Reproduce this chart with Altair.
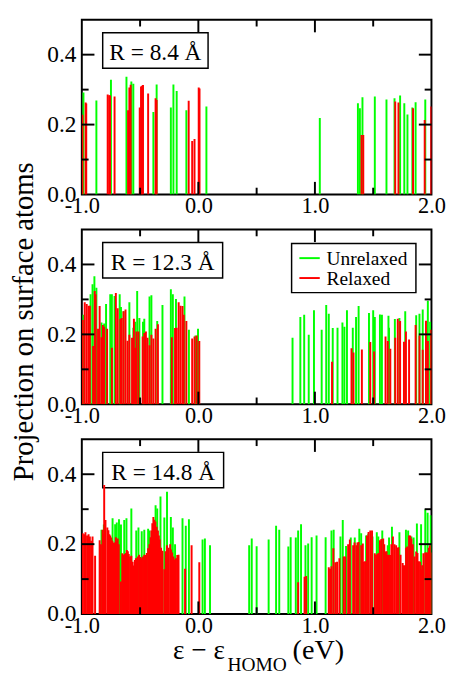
import altair as alt
import pandas as pd

FONT = "Liberation Serif"
W, H = 360, 180

# ---------------- data ----------------
# Panel 1: R = 8.4 A
P1_U_X = [-0.986, -0.875, -0.75, -0.617, -0.575, -0.558, -0.386, -0.358, -0.236, -0.214, -0.186, -0.103, 0.069,
          1.042, 1.369, 1.386, 1.408, 1.514, 1.614, 1.683, 1.731, 1.767, 1.794, 1.836, 1.864, 1.947]
P1_U_Y = [0.292, 0.269, 0.328, 0.337, 0.323, 0.317, 0.236, 0.315, 0.249, 0.315, 0.296, 0.241, 0.252,
          0.219, 0.261, 0.247, 0.278, 0.28, 0.272, 0.275, 0.283, 0.261, 0.229, 0.249, 0.264, 0.272]
P1_R_X = [-0.995, -0.967, -0.962, -0.778, -0.765, -0.758, -0.719, -0.603, -0.592, -0.581, -0.503, -0.492, -0.483, -0.475,
          -0.431, -0.367, -0.358, -0.083, -0.053, -0.033, 0.003, 0.01, 1.40, 1.415, 1.689, 1.717, 1.842, 1.942, 1.998]
P1_R_Y = [0.228, 0.263, 0.26, 0.286, 0.284, 0.283, 0.28, 0.241, 0.306, 0.314, 0.249, 0.309, 0.311, 0.313,
          0.289, 0.275, 0.27, 0.268, 0.153, 0.159, 0.306, 0.303, 0.17, 0.17, 0.266, 0.263, 0.247, 0.213, 0.252]

# Panel 2: R = 12.3 A
P2_U_X = [-0.986, -0.925, -0.908, -0.892, -0.875, -0.831, -0.808, -0.792, -0.756, -0.742, -0.719, -0.675, -0.664,
          -0.642, -0.592, -0.558, -0.542, -0.525, -0.506, -0.475, -0.464, -0.419, -0.403, -0.353, -0.308, -0.236,
          -0.219, -0.192, -0.119, -0.081, -0.025, -0.003,
          0.808, 0.875, 0.908, 0.947, 0.992, 1.058, 1.097, 1.119, 1.153, 1.194, 1.236, 1.253, 1.275, 1.325, 1.353,
          1.375, 1.464, 1.5, 1.514, 1.558, 1.575, 1.631, 1.636, 1.686, 1.725, 1.775, 1.869, 1.897, 1.925, 1.969, 1.989]
P2_U_Y = [0.256, 0.315, 0.343, 0.366, 0.333, 0.234, 0.231, 0.287, 0.315, 0.315, 0.31, 0.315, 0.278,
          0.266, 0.292, 0.219, 0.236, 0.324, 0.247, 0.236, 0.245, 0.308, 0.312, 0.238, 0.284, 0.329,
          0.315, 0.301, 0.308, 0.213, 0.197, 0.216,
          0.19, 0.25, 0.256, 0.199, 0.269, 0.213, 0.284, 0.259, 0.218, 0.219, 0.234, 0.222, 0.269, 0.219, 0.25,
          0.281, 0.261, 0.269, 0.25, 0.257, 0.256, 0.253, 0.219, 0.244, 0.247, 0.266, 0.255, 0.259, 0.271, 0.296, 0.236]
P2_R_X = [-0.992, -0.975, -0.958, -0.942, -0.931, -0.903, -0.889, -0.881, -0.861, -0.847, -0.831, -0.819, -0.808,
          -0.783, -0.742, -0.708, -0.692, -0.669, -0.658, -0.642, -0.625, -0.608, -0.592, -0.569, -0.553, -0.542,
          -0.531, -0.514, -0.478, -0.464, -0.45, -0.436, -0.419, -0.403, -0.386, -0.367, -0.347, -0.228, -0.2,
          -0.186, -0.169, -0.153, -0.136, -0.125, -0.103, -0.053, -0.033, -0.014, 0.008,
          1.147, 1.314, 1.331, 1.403, 1.475, 1.508, 1.606, 1.625, 1.647, 1.689, 1.711, 1.731, 1.764, 1.781, 1.808,
          1.864, 1.897, 1.925, 1.953, 1.969, 1.997]
P2_R_Y = [0.241, 0.292, 0.287, 0.282, 0.282, 0.167, 0.324, 0.315, 0.216, 0.281, 0.192, 0.227, 0.222,
          0.216, 0.162, 0.318, 0.275, 0.244, 0.247, 0.266, 0.271, 0.182, 0.199, 0.19, 0.245, 0.162,
          0.208, 0.208, 0.194, 0.204, 0.208, 0.19, 0.169, 0.199, 0.188, 0.216, 0.229, 0.192, 0.218,
          0.219, 0.292, 0.282, 0.281, 0.256, 0.238, 0.188, 0.194, 0.197, 0.181,
          0.122, 0.16, 0.148, 0.157, 0.178, 0.151, 0.194, 0.181, 0.159, 0.19, 0.245, 0.238, 0.179, 0.208, 0.185,
          0.227, 0.197, 0.156, 0.239, 0.181, 0.213]

# Panel 3: R = 14.8 A
P3_U_X = [-0.831, -0.811, -0.736, -0.714, -0.7, -0.681, -0.664, -0.636, -0.617, -0.575, -0.533, -0.514, -0.486,
          -0.464, -0.431, -0.419, -0.367, -0.353, -0.325, -0.292, -0.269, -0.236, -0.219, -0.2, -0.136, -0.108,
          -0.081, 0.036, 0.056, 0.1,
          0.436, 0.458, 0.5, 0.603, 0.667, 0.694, 0.772, 0.792, 0.836, 0.856, 0.881, 0.919, 0.942, 0.972, 1.014,
          1.092, 1.142, 1.161, 1.219, 1.239, 1.267, 1.308, 1.342, 1.381, 1.397, 1.439, 1.458, 1.494, 1.531, 1.544,
          1.578, 1.625, 1.636, 1.661, 1.725, 1.781, 1.8, 1.828, 1.847, 1.875, 1.911, 1.947, 1.967, 1.994]
P3_U_Y = [0.241, 0.256, 0.274, 0.257, 0.262, 0.271, 0.256, 0.269, 0.274, 0.302, 0.239, 0.248, 0.237,
          0.241, 0.244, 0.239, 0.311, 0.302, 0.336, 0.276, 0.35, 0.278, 0.248, 0.2, 0.274, 0.253,
          0.271, 0.213, 0.216, 0.197,
          0.197, 0.216, 0.194, 0.213, 0.253, 0.241, 0.193, 0.22, 0.219, 0.239, 0.257, 0.197, 0.202, 0.22, 0.225,
          0.22, 0.239, 0.241, 0.222, 0.269, 0.195, 0.219, 0.219, 0.244, 0.231, 0.225, 0.23, 0.222, 0.234, 0.222,
          0.239, 0.197, 0.219, 0.25, 0.234, 0.241, 0.239, 0.222, 0.219, 0.259, 0.257, 0.299, 0.29, 0.283]
P3_R_X = [-0.992, -0.98, -0.969, -0.955, -0.942, -0.931, -0.92, -0.908, -0.886, -0.847, -0.836, -0.822, -0.815,
          -0.808, -0.797, -0.781, -0.772, -0.764, -0.756, -0.747, -0.738, -0.728, -0.718, -0.708, -0.7, -0.692,
          -0.683, -0.664, -0.653, -0.642, -0.631, -0.622, -0.614, -0.605, -0.597, -0.586, -0.575, -0.564, -0.553,
          -0.545, -0.536, -0.528, -0.519, -0.508, -0.497, -0.486, -0.475, -0.464, -0.453, -0.442, -0.431, -0.42,
          -0.41, -0.403, -0.395, -0.386, -0.378, -0.369, -0.358, -0.347, -0.339, -0.331, -0.32, -0.308, -0.292,
          -0.28, -0.269, -0.255, -0.242, -0.234, -0.225, -0.214, -0.203, -0.192, -0.181, -0.17, -0.114, -0.058, 0.008,
          0.856, 0.911, 0.925, 1.119, 1.13, 1.142, 1.158, 1.175, 1.19, 1.21, 1.247, 1.26, 1.285, 1.3, 1.328, 1.34,
          1.356, 1.365, 1.375, 1.397, 1.411, 1.42, 1.431, 1.447, 1.46, 1.475, 1.49, 1.514, 1.525, 1.536, 1.545,
          1.558, 1.57, 1.586, 1.595, 1.606, 1.615, 1.625, 1.635, 1.647, 1.656, 1.669, 1.683, 1.697, 1.706, 1.717,
          1.735, 1.753, 1.762, 1.772, 1.782, 1.792, 1.808, 1.818, 1.828, 1.84, 1.856, 1.869, 1.88, 1.892, 1.903,
          1.911, 1.92, 1.931, 1.947, 1.957, 1.967, 1.977, 1.986, 2.0]
P3_R_Y = [0.231, 0.228, 0.234, 0.225, 0.228, 0.222, 0.21, 0.222, 0.167, 0.211, 0.2, 0.241, 0.23,
          0.369, 0.269, 0.248, 0.24, 0.228, 0.225, 0.219, 0.21, 0.204, 0.205, 0.22, 0.21, 0.216,
          0.2, 0.093, 0.174, 0.17, 0.172, 0.175, 0.183, 0.18, 0.172, 0.165, 0.167, 0.15, 0.139,
          0.155, 0.16, 0.16, 0.165, 0.17, 0.163, 0.16, 0.165, 0.17, 0.169, 0.175, 0.188, 0.2,
          0.22, 0.239, 0.26, 0.278, 0.27, 0.265, 0.25, 0.239, 0.225, 0.213, 0.19, 0.181, 0.128,
          0.18, 0.197, 0.19, 0.2, 0.185, 0.176, 0.165, 0.156, 0.16, 0.169, 0.17, 0.13, 0.197, 0.148,
          0.091, 0.107, 0.109, 0.134, 0.13, 0.137, 0.188, 0.148, 0.15, 0.16, 0.165, 0.165, 0.2, 0.213, 0.197, 0.205,
          0.197, 0.205, 0.206, 0.197, 0.202, 0.15, 0.151, 0.225, 0.235, 0.239, 0.239, 0.174, 0.17, 0.172, 0.175,
          0.211, 0.215, 0.216, 0.2, 0.179, 0.18, 0.169, 0.17, 0.169, 0.2, 0.222, 0.2, 0.197, 0.19, 0.191,
          0.17, 0.146, 0.14, 0.139, 0.19, 0.193, 0.225, 0.225, 0.216, 0.2, 0.165, 0.179, 0.175, 0.151, 0.15,
          0.128, 0.14, 0.174, 0.176, 0.176, 0.176, 0.19, 0.197, 0.176]

LABELS = ["R = 8.4 \u00c5", "R = 12.3 \u00c5", "R = 14.8 \u00c5"]
LEGEND = ["Unrelaxed", "Relaxed"]
X_TICKS = [-1.0, 0.0, 1.0, 2.0]
Y_TICKS = [0.0, 0.2, 0.4]
X_MAJOR = [0.0, 1.0]
X_MINOR = [-0.5, 0.5, 1.5]
Y_MAJOR = [0.2, 0.4]
Y_MINOR = [0.1, 0.3]

GREEN = "#00ff00"
RED = "#ff0000"

# ---------------- chart ----------------
xs = alt.Scale(domain=[-1, 2], nice=False, zero=False)
ys = alt.Scale(domain=[0, 0.5], nice=False, zero=False)
label_expr = "datum.value < 0 ? '-' + format(-datum.value, '.1f') : format(datum.value, '.1f')"
xaxis = alt.Axis(values=X_TICKS, labelExpr=label_expr, title=None, ticks=False, domain=False, grid=False,
                 labelFont=FONT, labelFontSize=23, labelColor="black", labelPadding=1,
                 labelFlush=False, labelOverlap=False)
yaxis = alt.Axis(values=Y_TICKS, format=".1f", title=None, ticks=False, domain=False, grid=False,
                 labelFont=FONT, labelFontSize=24, labelColor="black", labelPadding=6,
                 labelOverlap=False)

one = pd.DataFrame({"k": [0]})


def spikes(xv, yv, color):
    df = pd.DataFrame({"x": xv, "y": yv})
    return alt.Chart(df).mark_rule(color=color, strokeWidth=2, clip=True).encode(
        x=alt.X("x:Q", scale=xs, axis=xaxis),
        y=alt.Y("y:Q", scale=ys, axis=yaxis),
        y2=alt.datum(0),
    )


def xticks(vals, length, top):
    df = pd.DataFrame({"t": vals})
    if top:
        yy, yy2 = alt.value(0), alt.value(length)
    else:
        yy, yy2 = alt.value(H), alt.value(H - length)
    return alt.Chart(df).mark_rule(color="black", strokeWidth=2).encode(
        x=alt.X("t:Q", scale=xs, axis=xaxis), y=yy, y2=yy2)


def yticks(vals, length, left):
    df = pd.DataFrame({"t": vals})
    if left:
        xx, xx2 = alt.value(0), alt.value(length)
    else:
        xx, xx2 = alt.value(W), alt.value(W - length)
    return alt.Chart(df).mark_rule(color="black", strokeWidth=2).encode(
        y=alt.Y("t:Q", scale=ys, axis=yaxis), x=xx, x2=xx2)


def text(s, x, y, size, align="left", angle=None):
    kw = dict(font=FONT, fontSize=size, align=align, baseline="alphabetic", color="black")
    if angle is not None:
        kw["angle"] = angle
    return alt.Chart(one).mark_text(**kw).encode(x=alt.value(x), y=alt.value(y), text=alt.value(s))


def box(x0, x1, y0, y1, sw=1.5):
    return alt.Chart(one).mark_rect(fill="white", fillOpacity=0, stroke="black", strokeWidth=sw).encode(
        x=alt.value(x0), x2=alt.value(x1), y=alt.value(y0), y2=alt.value(y1))


def hline(x0, x1, y, color):
    return alt.Chart(one).mark_rule(color=color, strokeWidth=2).encode(
        x=alt.value(x0), x2=alt.value(x1), y=alt.value(y))


def panel(ux, uy, rx, ry, label, bx1, extra=()):
    layers = [
        box(21.5, bx1, 13.5, 50),
        text(label, (21.5 + bx1) / 2, 42, 24, align="center"),
        spikes(ux, uy, GREEN),
        spikes(rx, ry, RED),
        xticks(X_MAJOR, 13, True), xticks(X_MINOR, 7, True),
        xticks(X_MAJOR, 13, False), xticks(X_MINOR, 7, False),
        yticks(Y_MAJOR, 13, True), yticks(Y_MINOR, 7, True),
        yticks(Y_MAJOR, 13, False), yticks(Y_MINOR, 7, False),
    ]
    layers += list(extra)
    return alt.layer(*layers).properties(width=W, height=H)


legend_layers = [
    box(216, 344, 14.5, 65),
    hline(224, 245, 29.5, GREEN),
    hline(224, 245, 50, RED),
    text(LEGEND[0], 252, 36.5, 20),
    text(LEGEND[1], 252, 57, 20),
    text("Projection on surface atoms", -50, 95, 29.5, align="center", angle=270),
]

xtitle_layers = [
    text("\u03b5 \u2212 \u03b5", 94, 226, 28),
    text("HOMO", 150, 239, 20),
    text("(eV)", 217, 226, 29),
]

p1 = panel(P1_U_X, P1_U_Y, P1_R_X, P1_R_Y, LABELS[0], 130)
p2 = panel(P2_U_X, P2_U_Y, P2_R_X, P2_R_Y, LABELS[1], 145, legend_layers)
p3 = panel(P3_U_X, P3_U_Y, P3_R_X, P3_R_Y, LABELS[2], 146, xtitle_layers)

chart = alt.vconcat(p1, p2, p3, spacing=36, bounds="flush").properties(
    padding=0
).configure_view(stroke="black", strokeWidth=2)

chart.save("out.html", embed_options={"renderer": "svg", "actions": False})
